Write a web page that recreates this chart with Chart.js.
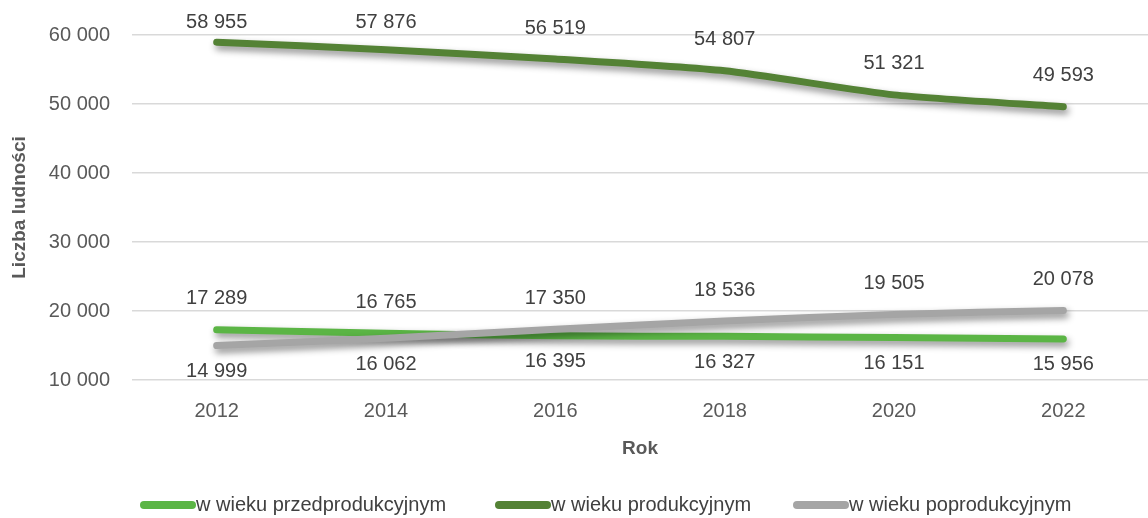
<!DOCTYPE html>
<html>
<head>
<meta charset="utf-8">
<script src="https://cdn.jsdelivr.net/npm/chart.js@4"></script>
<style>
  html, body { margin: 0; padding: 0; background: #fff; }
  #wrap { width: 1148px; height: 518px; }
</style>
</head>
<body>
<div id="wrap"><canvas id="chart" width="1148" height="518"></canvas></div>
<script>
// Dane
const years = ['2012', '2014', '2016', '2018', '2020', '2022'];
const przedprodukcyjny = [17289, 16765, 16395, 16327, 16151, 15956];
const produkcyjny = [58955, 57876, 56519, 54807, 51321, 49593];
const poprodukcyjny = [14999, 16062, 17350, 18536, 19505, 20078];
const yTicks = [10000, 20000, 30000, 40000, 50000, 60000];
const seriesNames = ['w wieku przedprodukcyjnym', 'w wieku produkcyjnym', 'w wieku poprodukcyjnym'];

const FONT = "'Liberation Sans Narrow', 'Arial Narrow', 'Liberation Sans', sans-serif";
const colors = ['#5BB545', '#548235', '#A5A5A5'];

const fmt = v => String(v).replace(/\B(?=(\d{3})+(?!\d))/g, ' ');

// cień pod liniami
const shadowPlugin = {
    id: 'shadow',
    beforeDatasetDraw(chart) {
        const ctx = chart.ctx;
        ctx.save();
        ctx.shadowColor = 'rgba(0,0,0,0.45)';
        ctx.shadowBlur = 7;
        ctx.shadowOffsetX = 2;
        ctx.shadowOffsetY = 4;
    },
    afterDatasetDraw(chart) {
        chart.ctx.restore();
    }
};

// etykiety danych: wyższa wartość nad linią, niższa pod
const labelPlugin = {
    id: 'labels',
    afterDatasetsDraw(chart) {
        const ctx = chart.ctx;
        ctx.save();
        ctx.font = '20px ' + FONT;
        ctx.fillStyle = '#404040';
        ctx.textAlign = 'center';
        ctx.textBaseline = 'middle';
        for (let i = 0; i < years.length; i++) {
            chart.data.datasets.forEach((ds, d) => {
                const pt = chart.getDatasetMeta(d).data[i];
                let above = true;
                if (d !== 1) {
                    const other = d === 0 ? poprodukcyjny[i] : przedprodukcyjny[i];
                    above = ds.data[i] >= other;
                }
                const y = above ? Math.max(pt.y - 31, 22) : pt.y + 26;
                ctx.fillText(fmt(ds.data[i]), pt.x, y);
            });
        }
        ctx.restore();
    }
};

// legenda na dole
const legendPlugin = {
    id: 'bottomLegend',
    afterDraw(chart) {
        const ctx = chart.ctx;
        ctx.save();
        ctx.font = '20px ' + FONT;
        ctx.textBaseline = 'middle';
        const y = 505;
        const starts = [140, 495, 793];
        seriesNames.forEach((name, i) => {
            const x = starts[i];
            ctx.strokeStyle = colors[i];
            ctx.lineWidth = 8;
            ctx.lineCap = 'round';
            ctx.beginPath();
            ctx.moveTo(x + 4, y);
            ctx.lineTo(x + 52, y);
            ctx.stroke();
            ctx.fillStyle = '#404040';
            ctx.fillText(name, x + 56, y);
        });
        ctx.restore();
    }
};

function line(label, data, color, order) {
    return {
        label: label,
        data: data,
        borderColor: color,
        backgroundColor: color,
        borderWidth: 7,
        borderCapStyle: 'round',
        borderJoinStyle: 'round',
        pointRadius: 0,
        tension: 0.2,
        fill: false,
        order: order
    };
}

new Chart(document.getElementById('chart'), {
    type: 'line',
    data: {
        labels: years,
        datasets: [
            line(seriesNames[0], przedprodukcyjny, colors[0], 2),
            line(seriesNames[1], produkcyjny, colors[1], 1),
            line(seriesNames[2], poprodukcyjny, colors[2], 0)
        ]
    },
    options: {
        responsive: false,
        animation: false,
        layout: { padding: { top: 35, right: 0, bottom: 58, left: 0 } },
        plugins: {
            legend: { display: false },
            tooltip: { enabled: false }
        },
        scales: {
            x: {
                offset: true,
                grid: { display: false, drawTicks: false },
                border: { display: false },
                ticks: { padding: 19, color: '#595959', font: { family: FONT, size: 20 } },
                title: {
                    display: true, text: 'Rok', color: '#595959',
                    font: { family: FONT, size: 19, weight: 'bold' },
                    padding: { top: 10, bottom: 0 }
                },
                afterFit(scale) { scale.height = 80; }
            },
            y: {
                min: 10000,
                max: 60000,
                afterBuildTicks(scale) { scale.ticks = yTicks.map(v => ({ value: v })); },
                grid: { color: '#D9D9D9', lineWidth: 1.5, drawTicks: false },
                border: { display: false },
                ticks: {
                    padding: 22, color: '#595959',
                    font: { family: FONT, size: 20 },
                    callback: v => fmt(v)
                },
                title: {
                    display: true, text: 'Liczba ludności', color: '#595959',
                    font: { family: FONT, size: 19, weight: 'bold' },
                    padding: { top: 8, bottom: 0 }
                },
                afterFit(scale) { scale.width = 132; }
            }
        }
    },
    plugins: [shadowPlugin, labelPlugin, legendPlugin]
});
</script>
</body>
</html>
